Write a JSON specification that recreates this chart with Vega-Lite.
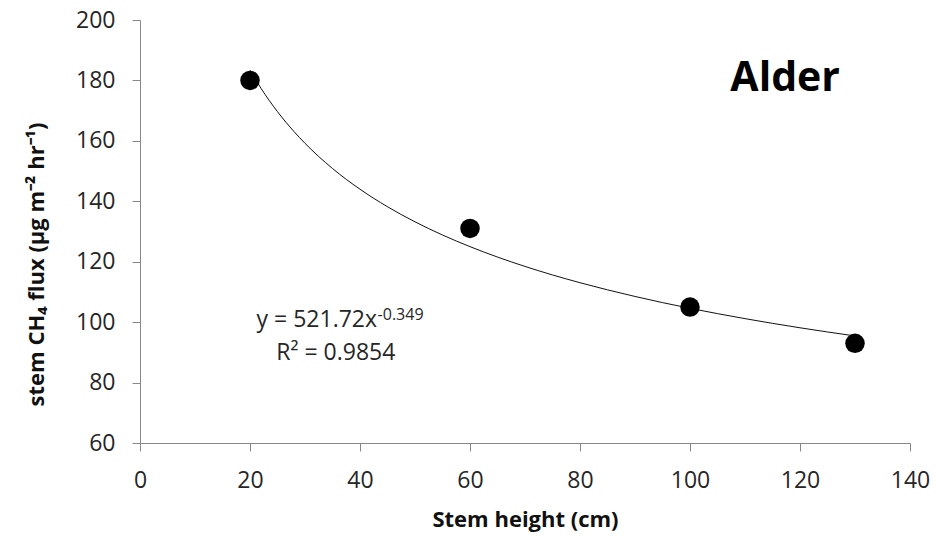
{
  "$schema": "https://vega.github.io/schema/vega-lite/v6.json",
  "width": 770,
  "height": 423,
  "autosize": "none",
  "padding": {"left": 140, "top": 20, "right": 26, "bottom": 93},
  "background": "white",
  "config": {
    "view": {"stroke": null},
    "font": "Open Sans",
    "axis": {
      "grid": false,
      "labelFlush": false,
      "labelOverlap": false,
      "domainColor": "#888888",
      "tickColor": "#888888",
      "tickSize": 8,
      "labelFont": "Open Sans",
      "labelFontSize": 23,
      "labelColor": "#262626",
      "titleFont": "Open Sans",
      "titleFontSize": 22,
      "titleFontWeight": "bold",
      "titleColor": "#111111"
    }
  },
  "datasets": {
    "obs": [
      {"height": 20, "flux": 180},
      {"height": 60, "flux": 131},
      {"height": 100, "flux": 105},
      {"height": 130, "flux": 93}
    ],
    "fit": [
      {"height": 20, "flux": 183.4},
      {"height": 22, "flux": 177.39},
      {"height": 25, "flux": 169.65},
      {"height": 28, "flux": 163.07},
      {"height": 30, "flux": 159.19},
      {"height": 35, "flux": 150.85},
      {"height": 40, "flux": 143.99},
      {"height": 45, "flux": 138.19},
      {"height": 50, "flux": 133.2},
      {"height": 55, "flux": 128.84},
      {"height": 60, "flux": 124.99},
      {"height": 65, "flux": 121.54},
      {"height": 70, "flux": 118.44},
      {"height": 75, "flux": 115.62},
      {"height": 80, "flux": 113.05},
      {"height": 90, "flux": 108.5},
      {"height": 100, "flux": 104.58},
      {"height": 110, "flux": 101.16},
      {"height": 120, "flux": 98.13},
      {"height": 130, "flux": 95.43}
    ]
  },
  "layer": [
    {
      "data": {"name": "fit"},
      "mark": {"type": "line", "color": "#111111", "strokeWidth": 1, "interpolate": "monotone"},
      "encoding": {
        "x": {
          "field": "height", "type": "quantitative",
          "scale": {"domain": [0, 140], "nice": false, "zero": false},
          "axis": {"values": [0, 20, 40, 60, 80, 100, 120, 140], "title": "Stem height (cm)", "labelPadding": 18, "titleY": 83, "titleBaseline": "alphabetic"}
        },
        "y": {
          "field": "flux", "type": "quantitative",
          "scale": {"domain": [60, 200], "nice": false, "zero": false},
          "axis": {"values": [60, 80, 100, 120, 140, 160, 180, 200], "title": "stem CH₄ flux (µg m⁻² hr⁻¹)", "labelPadding": 17, "titleX": -103.5, "titleY": 244, "titleAlign": "center", "titleBaseline": "middle", "titleAngle": 270}
        }
      }
    },
    {
      "data": {"name": "obs"},
      "mark": {"type": "point", "filled": true, "color": "#000000", "opacity": 1, "size": 380},
      "encoding": {
        "x": {"field": "height", "type": "quantitative"},
        "y": {"field": "flux", "type": "quantitative"}
      }
    },
    {
      "data": {"values": [{}]},
      "mark": {"type": "text", "text": "y = 521.72x", "align": "right", "baseline": "alphabetic", "fontSize": 23, "font": "Open Sans", "color": "#262626"},
      "encoding": {"x": {"datum": 43.1, "type": "quantitative"}, "y": {"datum": 98.4, "type": "quantitative"}}
    },
    {
      "data": {"values": [{}]},
      "mark": {"type": "text", "text": "-0.349", "align": "left", "baseline": "alphabetic", "fontSize": 16, "font": "Open Sans", "color": "#262626"},
      "encoding": {"x": {"datum": 43.2, "type": "quantitative"}, "y": {"datum": 100.7, "type": "quantitative"}}
    },
    {
      "data": {"values": [{}]},
      "mark": {"type": "text", "text": "R² = 0.9854", "align": "center", "baseline": "alphabetic", "fontSize": 23, "font": "Open Sans", "color": "#262626"},
      "encoding": {"x": {"datum": 35.6, "type": "quantitative"}, "y": {"datum": 87.5, "type": "quantitative"}}
    },
    {
      "data": {"values": [{}]},
      "mark": {"type": "text", "text": "Alder", "align": "center", "baseline": "alphabetic", "fontSize": 41, "fontWeight": "bold", "font": "Open Sans", "color": "#000000"},
      "encoding": {"x": {"datum": 117.3, "type": "quantitative"}, "y": {"datum": 176.5, "type": "quantitative"}}
    }
  ]
}
